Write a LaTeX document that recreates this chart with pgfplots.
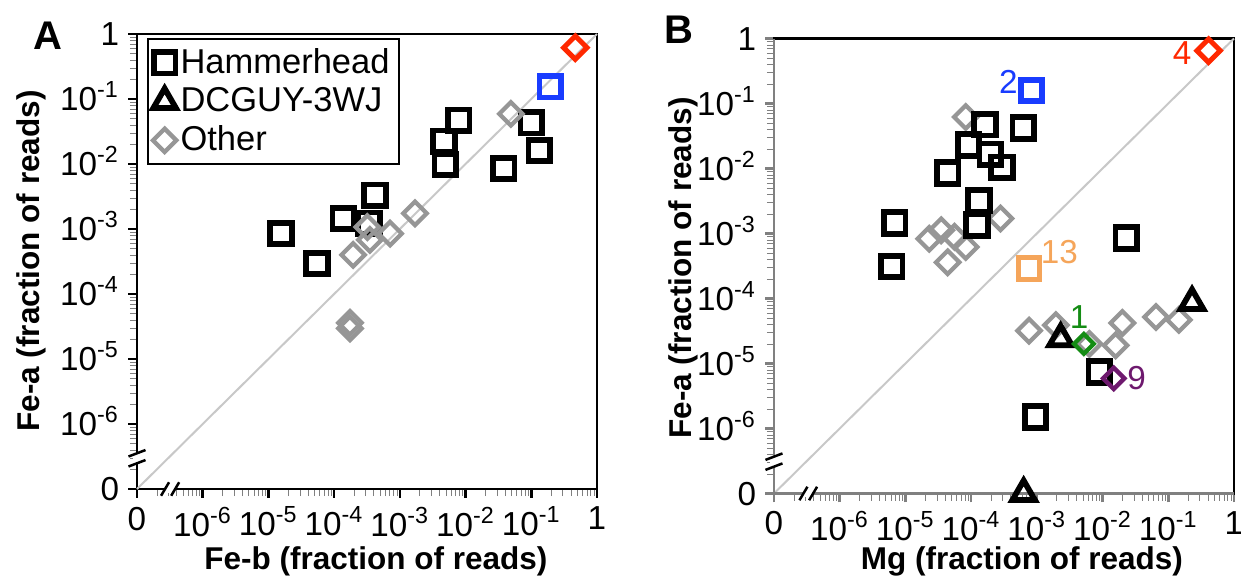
\documentclass[border=0pt]{standalone}
\usepackage{pgfplots}
\pgfplotsset{compat=1.18}
\usepackage{fontspec}
\setmainfont{Liberation Sans}
\definecolor{mkgray}{RGB}{150,150,150}
\definecolor{diaggray}{RGB}{200,200,200}
\definecolor{axgray}{RGB}{128,128,128}
\definecolor{myblue}{RGB}{25,60,255}
\definecolor{myred}{RGB}{255,40,0}
\definecolor{myorange}{RGB}{245,165,90}
\definecolor{mygreen}{RGB}{20,140,20}
\definecolor{mypurple}{RGB}{110,25,110}
\newcommand{\fs}{\fontsize{13.3}{15}\selectfont}
\newcommand{\fl}{\fontsize{13.8}{16}\selectfont}
\newcommand{\fsb}{\fontsize{12.6}{15}\selectfont\bfseries}
\pgfplotsset{
  hh/.style={only marks, mark=square, mark size=4.3pt, line width=2.3pt, color=black},
  tri/.style={only marks, mark=triangle, mark size=5.2pt, line width=2.3pt, color=black},
  oth/.style={only marks, mark=square, mark size=3.3pt, line width=1.7pt, color=mkgray, mark options={rotate=45}},
  every axis/.append style={
    scale only axis, width=184pt, height=182pt,
    xmode=log, ymode=log, xmin=1e-7, xmax=1, ymin=1e-7, ymax=1,
    xtick={1e-7,1e-6,1e-5,1e-4,1e-3,1e-2,1e-1,1},
    ytick={1e-7,1e-6,1e-5,1e-4,1e-3,1e-2,1e-1,1},
    xticklabels={0,10\textsuperscript{-6},10\textsuperscript{-5},10\textsuperscript{-4},10\textsuperscript{-3},10\textsuperscript{-2},10\textsuperscript{-1},1},
    yticklabels={0,10\textsuperscript{-6},10\textsuperscript{-5},10\textsuperscript{-4},10\textsuperscript{-3},10\textsuperscript{-2},10\textsuperscript{-1},1},
    tick align=outside, xtick pos=left, ytick pos=left,
    major tick length=3.6pt, minor tick num=0,
    axis line style={line width=1pt},
    ticklabel style={font=\fs},
    yticklabel style={anchor=base east, yshift=-4.7pt},
    clip=false,
  },
}
\begin{document}
\begin{tikzpicture}
\useasboundingbox (0,0) rectangle (496.4pt,230.8pt);
% ---------------- Panel A ----------------
\begin{axis}[at={(54.8pt,35.2pt)}, anchor=south west,
  major tick style={line width=1pt, black},
  legend style={at={(0.0217,0.991)}, anchor=north west, draw=black, line width=0.8pt,
    font=\fl, inner sep=2pt, row sep=0.8pt, column sep=0pt,
    nodes={inner sep=1.7pt}},
  legend cell align=left,
  legend image code/.code={\draw[#1] plot coordinates {(0pt,0pt)};},
]
\addlegendimage{hh}
\addlegendentry{Hammerhead}
\addlegendimage{tri}
\addlegendentry{DCGUY-3WJ}
\addlegendimage{oth}
\addlegendentry{Other}
\addplot[diaggray, line width=0.8pt, forget plot] coordinates {(1e-7,1e-7) (1,1)};
\addplot[hh, forget plot] coordinates {
 (1.55e-5,8.5e-4) (5.5e-5,2.95e-4) (1.38e-4,1.45e-3) (3.4e-4,1.23e-3) (4.2e-4,3.3e-3)
 (4.7e-3,2.24e-2) (4.9e-3,9.8e-3) (7.9e-3,4.7e-2) (3.8e-2,8.5e-3) (0.1,4.3e-2) (0.132,1.62e-2)};
\addplot[oth, forget plot] coordinates {
 (4.9e-2,5.9e-2) (1.7e-3,1.74e-3) (7.1e-4,8.5e-4) (3.5e-4,6.8e-4) (3.2e-4,1.07e-3)
 (1.95e-4,4.0e-4) (1.74e-4,3.6e-5) (1.74e-4,2.95e-5)};
\addplot[hh, color=myblue, forget plot] coordinates {(0.195,0.155)};
\addplot[oth, color=myred, line width=2pt, forget plot] coordinates {(0.468,0.617)};
% axis breaks
\fill[white] ([xshift=-1.5pt]rel axis cs:0,0.0565) rectangle ([xshift=1.5pt]rel axis cs:0,0.0785);
\draw[line width=1pt] ([xshift=-3.4pt,yshift=-1.3pt]rel axis cs:0,0.0565) -- ([xshift=3.4pt,yshift=1.3pt]rel axis cs:0,0.0565);
\draw[line width=1pt] ([xshift=-3.4pt,yshift=-1.3pt]rel axis cs:0,0.0785) -- ([xshift=3.4pt,yshift=1.3pt]rel axis cs:0,0.0785);
\fill[white] ([yshift=-1.5pt]rel axis cs:0.061,0) rectangle ([yshift=1.5pt]rel axis cs:0.083,0);
\draw[line width=1pt] ([xshift=-1.6pt,yshift=-2.7pt]rel axis cs:0.061,0) -- ([xshift=1.6pt,yshift=2.7pt]rel axis cs:0.061,0);
\draw[line width=1pt] ([xshift=-1.6pt,yshift=-2.7pt]rel axis cs:0.083,0) -- ([xshift=1.6pt,yshift=2.7pt]rel axis cs:0.083,0);
\end{axis}
% ---------------- Panel B ----------------
\begin{axis}[at={(309.6pt,33.4pt)}, anchor=south west,
  major tick style={line width=1pt, axgray}]
\addplot[diaggray, line width=0.8pt] coordinates {(1e-7,1e-7) (1,1)};
\addplot[oth] coordinates {
 (8.3e-5,6.2e-2) (2.8e-4,1.7e-3) (2.3e-5,8.3e-4) (3.5e-5,1.12e-3) (5.6e-5,8.9e-4)
 (8.3e-5,6.2e-4) (4.4e-5,3.6e-4) (7.6e-4,3.2e-5) (1.95e-3,3.9e-5) (2.0e-2,4.2e-5)
 (1.58e-2,1.9e-5) (6.3e-3,2.0e-5) (6.5e-2,5.2e-5) (0.145,4.7e-5)};
\addplot[hh] coordinates {
 (6.9e-6,1.45e-3) (6.2e-6,3.1e-4) (4.4e-5,8.5e-3) (9.1e-5,2.3e-2) (1.62e-4,4.7e-2)
 (1.95e-4,1.66e-2) (2.95e-4,1.05e-2) (6.2e-4,4.2e-2) (1.32e-4,3.2e-3) (1.23e-4,1.35e-3)
 (2.3e-2,8.5e-4) (9.5e-4,1.5e-6) (8.9e-3,7.4e-6)};
\addplot[tri] coordinates {(2.3e-3,2.4e-5) (0.23,8.7e-5)};
\addplot[hh, color=myblue] coordinates {(8.3e-4,0.158)};
\addplot[hh, color=myorange, line width=1.9pt] coordinates {(7.6e-4,2.9e-4)};
\addplot[oth, color=myred, line width=2pt] coordinates {(0.41,0.65)};
\addplot[oth, color=mygreen, mark size=2.8pt, line width=1.7pt] coordinates {(5.2e-3,2.0e-5)};
\addplot[oth, color=mypurple, mark size=3pt, line width=1.8pt] coordinates {(1.48e-2,5.9e-6)};
\node[myblue, font=\fs] at (axis cs:3.7e-4,0.214) {2};
\node[myred, font=\fs] at (axis cs:0.162,0.60) {4};
\node[myorange, font=\fs] at (axis cs:2.2e-3,5.2e-4) {13};
\node[mygreen, font=\fs] at (axis cs:4.4e-3,5.2e-5) {1};
\node[mypurple, font=\fs] at (axis cs:3.3e-2,5.9e-6) {9};
% grey left and bottom axis lines
\draw[axgray, line width=1pt] (rel axis cs:0,1) -- (rel axis cs:0,0) -- (rel axis cs:1,0);
% axis breaks
\fill[white] ([xshift=-1.5pt]rel axis cs:0,0.059) rectangle ([xshift=1.5pt]rel axis cs:0,0.081);
\draw[line width=1pt] ([xshift=-3.4pt,yshift=-1.3pt]rel axis cs:0,0.059) -- ([xshift=3.4pt,yshift=1.3pt]rel axis cs:0,0.059);
\draw[line width=1pt] ([xshift=-3.4pt,yshift=-1.3pt]rel axis cs:0,0.081) -- ([xshift=3.4pt,yshift=1.3pt]rel axis cs:0,0.081);
\fill[white] ([yshift=-1.5pt]rel axis cs:0.064,0) rectangle ([yshift=1.5pt]rel axis cs:0.085,0);
\draw[line width=1pt] ([xshift=-1.6pt,yshift=-2.7pt]rel axis cs:0.064,0) -- ([xshift=1.6pt,yshift=2.7pt]rel axis cs:0.064,0);
\draw[line width=1pt] ([xshift=-1.6pt,yshift=-2.7pt]rel axis cs:0.085,0) -- ([xshift=1.6pt,yshift=2.7pt]rel axis cs:0.085,0);
\addplot[tri] coordinates {(6.3e-4,1e-7)};
\end{axis}
% labels
\node[font=\fontsize{16}{18}\selectfont\bfseries] at (19.2pt,216.4pt) {A};
\node[font=\fontsize{16}{18}\selectfont\bfseries] at (271.6pt,218.8pt) {B};
\node[font=\fsb, rotate=90, inner sep=0pt] at (12.4pt,126.4pt) {Fe-a (fraction of reads)};
\node[font=\fsb, rotate=90, inner sep=0pt] at (273.2pt,123.6pt) {Fe-a (fraction of reads)};
\node[font=\fsb, inner sep=0pt] at (150.4pt,6.4pt) {Fe-b (fraction of reads)};
\node[font=\fsb, inner sep=0pt] at (408.8pt,6.4pt) {Mg (fraction of reads)};
\end{tikzpicture}
\end{document}
